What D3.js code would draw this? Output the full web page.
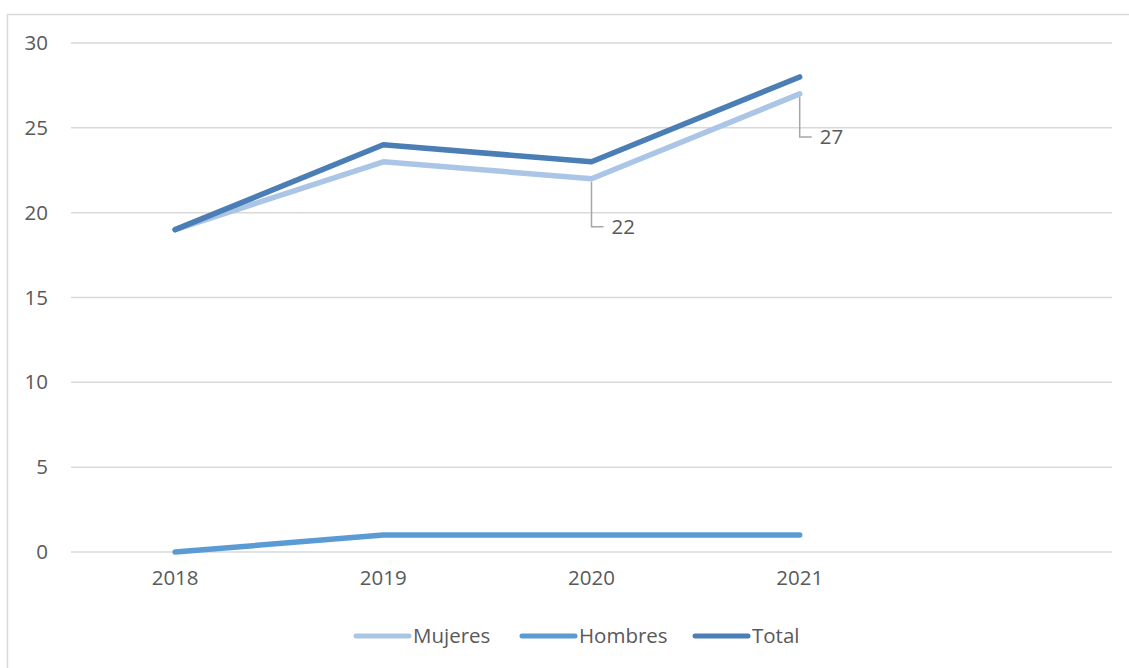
<!DOCTYPE html>
<html>
<head>
<meta charset="utf-8">
<script src="https://cdn.jsdelivr.net/npm/d3@7"></script>
<style>
  body { margin: 0; background: #fff; }
  text { font-family: "Open Sans", "Noto Sans", sans-serif; fill: #595959; }
</style>
</head>
<body>
<script>
// chart data
var years = ["2018", "2019", "2020", "2021", ""];
var mujeres = [19, 23, 22, 27];
var hombres = [0, 1, 1, 1];
var total = [19, 24, 23, 28];
var yTicks = [0, 5, 10, 15, 20, 25, 30];

var series = [
  { name: "Mujeres", values: mujeres, color: "#abc5e6" },
  { name: "Hombres", values: hombres, color: "#5b9bd5" },
  { name: "Total", values: total, color: "#4a7eb5" }
];

var width = 1129, height = 668;
var fontSize = 20.5;
var svg = d3.select("body").append("svg")
  .attr("width", width)
  .attr("height", height);

// outer chart border
svg.append("rect")
  .attr("x", 7.5).attr("y", 14.5)
  .attr("width", 1140).attr("height", 700)
  .attr("fill", "none")
  .attr("stroke", "#d9d9d9")
  .attr("stroke-width", 1.5);

var x = d3.scaleBand().domain(years).range([71, 1112]);
var y = d3.scaleLinear().domain([0, 30]).range([552, 43]);

// gridlines
svg.selectAll(".grid")
  .data(yTicks)
  .enter()
  .append("line")
  .attr("x1", 71).attr("x2", 1112)
  .attr("y1", function(d) { return y(d); })
  .attr("y2", function(d) { return y(d); })
  .attr("stroke", "#d9d9d9")
  .attr("stroke-width", 1.5);

// y axis labels
var yAxis = svg.append("g")
  .attr("transform", "translate(48,0)")
  .call(d3.axisLeft(y).tickValues(yTicks).tickSize(0).tickPadding(0));
yAxis.select(".domain").remove();
yAxis.selectAll("text")
  .attr("font-size", fontSize)
  .style("font-family", "'Open Sans', sans-serif")
  .attr("fill", "#595959");

// x axis labels
var xAxis = svg.append("g")
  .attr("transform", "translate(0,570)")
  .call(d3.axisBottom(x).tickSize(0).tickPadding(0));
xAxis.select(".domain").remove();
xAxis.selectAll("text")
  .attr("font-size", fontSize)
  .style("font-family", "'Open Sans', sans-serif")
  .attr("fill", "#595959");

var line = d3.line()
  .x(function(d, i) { return x(years[i]) + x.bandwidth() / 2; })
  .y(function(d) { return y(d); });

svg.selectAll(".series")
  .data(series)
  .enter()
  .append("path")
  .attr("d", function(d) { return line(d.values); })
  .attr("fill", "none")
  .attr("stroke", function(d) { return d.color; })
  .attr("stroke-width", 5.5)
  .attr("stroke-linecap", "round")
  .attr("stroke-linejoin", "round");

// data labels with leader lines (Mujeres 2020 and 2021)
var labelled = [2, 3];
var offsets = [48, 43];
labelled.forEach(function(i, k) {
  var px = x(years[i]) + x.bandwidth() / 2;
  var py = y(mujeres[i]);
  var ly = py + offsets[k];
  svg.append("polyline")
    .attr("points", [[px, py + 3], [px, ly], [px + 12, ly]].join(" "))
    .attr("fill", "none")
    .attr("stroke", "#a6a6a6")
    .attr("stroke-width", 1.5);
  svg.append("text")
    .attr("x", px + 20)
    .attr("y", ly)
    .attr("dy", "0.35em")
    .attr("font-size", fontSize)
    .attr("fill", "#404040")
    .text(mujeres[i]);
});

// legend
var legendX = [354, 520, 693];
var legend = svg.selectAll(".legend")
  .data(series)
  .enter()
  .append("g")
  .attr("transform", function(d, i) { return "translate(" + legendX[i] + ",636)"; });
legend.append("line")
  .attr("x1", 2).attr("x2", 55)
  .attr("y1", 0).attr("y2", 0)
  .attr("stroke", function(d) { return d.color; })
  .attr("stroke-width", 5)
  .attr("stroke-linecap", "round");
legend.append("text")
  .attr("x", 59)
  .attr("y", 0)
  .attr("dy", "0.35em")
  .attr("font-size", fontSize)
  .text(function(d) { return d.name; });
</script>
</body>
</html>
